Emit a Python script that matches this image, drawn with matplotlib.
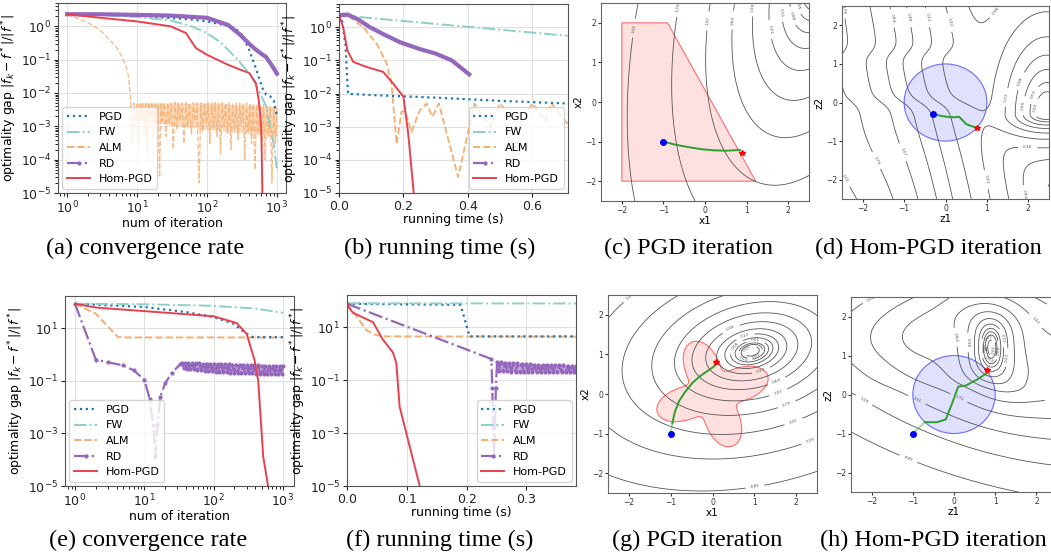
import numpy as np
import matplotlib.pyplot as plt
from matplotlib.lines import Line2D
from matplotlib.patches import Polygon, Circle

W, H = 1051, 557

C_PGD = '#1f77b4'
C_FW = '#8ecfc9'
C_ALM = '#f6ad6e'
C_RD = '#9467bd'
C_HOM = '#e8414e'

# ---------------- (a) gap vs iteration, problem 1
a_pgd_it = [1, 3, 10, 27, 60, 100, 160, 250, 320, 400, 480, 550, 620, 700, 800, 900, 1000]
a_pgd = [2.4, 2.3, 2.1, 1.8, 1.6, 1.4, 1.15, 0.9, 0.55, 0.2, 0.07, 0.03, 0.014, 0.009, 0.008, 0.006, 0.002]
a_fw_it = [1, 3, 10, 30, 60, 100, 150, 200, 300, 400, 500, 600, 700, 800, 900, 1000]
a_fw = [2.3, 2.2, 1.9, 1.5, 1.0, 0.63, 0.35, 0.2, 0.08, 0.04, 0.018, 0.008, 0.004, 0.001, 3e-4, 5e-5]
a_alm_it = [1, 2, 3, 4, 5, 6, 7, 7.6, 8.1, 8.5,
            9, 9.5, 10, 10.5, 11, 11.5, 12, 12.7, 13.4, 14, 14.8, 15.5, 16.3, 17, 18, 19, 20, 21, 22, 23,
            24.5, 26, 27.5, 29, 31, 33, 35, 37, 39, 41, 44, 47, 50, 53, 56, 60, 64, 68, 72, 77,
            82, 87, 92, 98, 104, 110, 117, 124, 131, 139, 147, 156, 165, 175, 185, 196, 208, 220, 233, 247,
            262, 277, 293, 310, 328, 347, 367, 388, 410, 434, 459, 485, 513, 543, 574, 607, 642, 679, 718, 759,
            803, 849, 898, 950, 1000]
a_alm = [2.3, 1.3, 0.75, 0.4, 0.25, 0.13, 0.06, 0.03, 7e-3, 3e-4,
         5.0e-3, 1.0e-3, 4.5e-3, 2.5e-4, 5.0e-3, 1.5e-3, 5.2e-3, 6e-4, 4.8e-3, 1.2e-4, 5.0e-3, 1.8e-3, 5.3e-3, 4e-4, 5.0e-3, 9e-4, 5.0e-3, 3e-5, 5.2e-3, 1.5e-3,
         5.0e-3, 5e-4, 5.1e-3, 1.2e-3, 5.0e-3, 2e-4, 5.2e-3, 8e-4, 5.0e-3, 1.5e-3, 5.0e-3, 3e-4, 5.1e-3, 1.0e-3, 5.0e-3, 6e-4, 5.2e-3, 1.4e-3, 5.0e-3, 2e-5,
         5.0e-3, 7e-4, 5.1e-3, 1.2e-3, 5.0e-3, 3e-4, 5.0e-3, 9e-4, 5.2e-3, 5e-4, 5.0e-3, 1.5e-4, 5.0e-3, 1.0e-3, 5.1e-3, 6e-4, 5.0e-3, 2e-4, 5.0e-3, 8e-4,
         5.0e-3, 4e-4, 5.0e-3, 1.1e-3, 4.8e-3, 1e-4, 5.0e-3, 7e-4, 4.8e-3, 3e-4, 4.8e-3, 5e-5, 4.6e-3, 6e-4, 4.5e-3, 2e-4, 4.5e-3, 1e-4, 4.2e-3, 5e-4,
         4.0e-3, 2e-5, 4.0e-3, 3e-4, 3.5e-3]
a_alm_band_it = [10, 100, 1000]
a_alm_band_lo = [1.5e-3, 8e-4, 5e-4]
a_alm_band_hi = [5.0e-3, 5.0e-3, 3.8e-3]
a_rd_it = [1, 3, 10, 30, 100, 200, 300, 400, 500, 600, 700, 800, 900, 1000]
a_rd = [2.3, 2.3, 2.2, 2.1, 1.8, 1.1, 0.55, 0.3, 0.2, 0.15, 0.12, 0.08, 0.055, 0.038]
a_hom_it = [1, 3, 10, 30, 50, 60, 70, 100, 200, 300, 400, 500, 550, 580, 600, 620, 640]
a_hom = [2.3, 1.8, 1.4, 1.0, 0.63, 0.35, 0.22, 0.14, 0.07, 0.05, 0.04, 0.02, 0.006, 0.002, 6e-4, 1e-5, 1e-6]

# ---------------- (b) gap vs time, problem 1
b_pgd_t = [0, 0.01, 0.02, 0.028, 0.1, 0.3, 0.5, 0.71]
b_pgd = [2.3, 1.5, 0.3, 0.0098, 0.009, 0.0075, 0.006, 0.005]
b_fw_t = [0, 0.71]
b_fw = [2.3, 0.55]
b_alm_t = [0, 0.034, 0.075, 0.117, 0.148, 0.163, 0.179, 0.194, 0.205, 0.225, 0.25, 0.272,
           0.29, 0.31, 0.37, 0.42, 0.47, 0.5, 0.56, 0.6, 0.64, 0.66, 0.71]
b_alm = [2.2, 2.0, 1.0, 0.32, 0.08, 0.02, 3e-4, 2.8e-3, 3e-3, 7e-4, 3e-3, 5e-3,
         2e-3, 5e-3, 3e-5, 5e-3, 1e-3, 5e-3, 1e-3, 5e-3, 1.5e-3, 5e-3, 1.2e-3]
b_rd_t = [0, 0.027, 0.06, 0.096, 0.14, 0.19, 0.25, 0.3, 0.35, 0.404]
b_rd = [2.3, 2.4, 1.7, 1.0, 0.6, 0.35, 0.22, 0.16, 0.1, 0.038]
b_hom_t = [0, 0.013, 0.026, 0.044, 0.086, 0.137, 0.168, 0.2, 0.215, 0.232, 0.24]
b_hom = [2.3, 1.0, 0.2, 0.09, 0.063, 0.045, 0.02, 0.008, 6e-4, 1e-5, 1e-6]

# ---------------- (e) gap vs iteration, problem 2
e_pgd_it = [1, 10, 41, 100, 190, 300, 370, 1000]
e_pgd = [84, 63, 40, 26, 15, 6, 4.5, 4.5]
e_fw_it = [1, 10, 100, 400, 1000]
e_fw = [84, 80, 70, 55, 38]
e_alm_it = [1, 2, 3.2, 4.2, 6, 1000]
e_alm = [84, 35, 9.5, 4.5, 4.4, 4.4]
e_rd_it = [1, 2, 3, 5, 7, 10, 12, 13.5, 14.5, 15.5, 17, 20, 25, 33,
           35, 37, 39, 41, 43, 46, 49, 52, 55, 58, 62, 66, 70, 74, 79, 84, 89, 95, 101, 107,
           114, 121, 129, 137, 146, 155, 165, 175, 186, 198, 210, 223, 237, 252, 268, 285, 303, 322, 342, 364,
           387, 411, 437, 465, 494, 525, 558, 593, 630, 670, 712, 757, 804, 855, 909, 966, 1000]
e_rd = [84, 0.63, 0.5, 0.38, 0.25, 0.11, 0.02, 2e-3, 1.3e-4, 2e-3, 0.024, 0.08, 0.2, 0.42,
        0.48, 0.3, 0.48, 0.29, 0.47, 0.28, 0.47, 0.27, 0.46, 0.26, 0.46, 0.25, 0.45, 0.24, 0.45, 0.23, 0.44, 0.23, 0.44, 0.22,
        0.43, 0.22, 0.43, 0.21, 0.42, 0.21, 0.42, 0.2, 0.41, 0.2, 0.41, 0.2, 0.4, 0.19, 0.4, 0.19, 0.39, 0.19, 0.39, 0.19,
        0.38, 0.18, 0.38, 0.18, 0.37, 0.18, 0.37, 0.18, 0.36, 0.18, 0.36, 0.18, 0.35, 0.18, 0.35, 0.18, 0.35]
e_rd_band_it = [35, 100, 1000]
e_rd_band_lo = [0.3, 0.22, 0.18]
e_rd_band_hi = [0.48, 0.44, 0.35]
e_hom_it = [1, 2, 10, 100, 215, 300, 390, 440, 520, 610, 660]
e_hom = [84, 60, 44, 28, 15.5, 6, 0.6, 0.1, 1.3e-4, 1e-5, 1e-6]

# ---------------- (f) gap vs time, problem 2
f_pgd_t = [0, 0.19, 0.205, 0.383]
f_pgd = [77, 70, 4.5, 4.5]
f_fw_t = [0, 0.383]
f_fw = [80, 79]
f_alm_t = [0, 0.016, 0.032, 0.046, 0.06, 0.383]
f_alm = [77, 26, 7.9, 5.3, 4.5, 4.4]
f_rd_t = [0, 0.2415, 0.243, 0.2445, 0.246, 0.2475, 0.249, 0.251,
          0.254, 0.257, 0.261, 0.264, 0.268, 0.271, 0.275, 0.278, 0.282, 0.285, 0.289, 0.292, 0.296, 0.299, 0.303, 0.306, 0.310, 0.313, 0.317, 0.320,
          0.324, 0.327, 0.331, 0.334, 0.338, 0.341, 0.345, 0.348, 0.352, 0.355, 0.359, 0.362, 0.366, 0.369, 0.373, 0.376, 0.380, 0.383]
f_rd = [77, 0.63, 0.05, 2e-3, 1.4e-4, 2e-3, 0.05, 0.5,
        0.22, 0.48, 0.22, 0.46, 0.22, 0.45, 0.21, 0.44, 0.21, 0.43, 0.21, 0.42, 0.2, 0.41, 0.2, 0.4, 0.2, 0.39, 0.2, 0.39,
        0.2, 0.38, 0.2, 0.38, 0.2, 0.37, 0.2, 0.37, 0.2, 0.36, 0.2, 0.36, 0.2, 0.35, 0.2, 0.35, 0.2, 0.35]
f_rd_band_t = [0.252, 0.383]
f_rd_band_lo = [0.22, 0.2]
f_rd_band_hi = [0.48, 0.35]
f_hom_t = [0, 0.002, 0.01, 0.0435, 0.06, 0.077, 0.0825, 0.088, 0.1216, 0.13]
f_hom = [84, 60, 35, 15.5, 3.4, 1.1, 0.44, 0.01, 1e-5, 2e-6]

# ---------------- iteration paths
levels = [0.01, 0.02, 0.03, 0.05, 0.08, 0.13, 0.22, 0.38, 0.64, 1.07, 1.79, 3.01, 5.05, 8.49]

c_poly_x = [-2, -0.9, 1.22, -2]
c_poly_y = [2, 2, -2, -2]
c_path_x = [-1.0, -0.7, -0.4, -0.1, 0.2, 0.5, 0.7, 0.84]
c_path_y = [-1.0, -1.08, -1.14, -1.19, -1.22, -1.23, -1.22, -1.21]
c_start = (-1.0, -1.0)
c_end = (0.88, -1.3)

d_path_x = [-0.29, -0.1, 0.11, 0.25, 0.33, 0.42, 0.5, 0.62, 0.75]
d_path_y = [-0.3, -0.35, -0.38, -0.38, -0.37, -0.47, -0.56, -0.61, -0.65]
d_start = (-0.29, -0.3)
d_end = (0.76, -0.66)

g_path_x = [-0.96, -0.9, -0.8, -0.65, -0.48, -0.3, -0.12, 0.0, 0.1]
g_path_y = [-0.74, -0.45, -0.18, 0.06, 0.28, 0.45, 0.58, 0.67, 0.75]
g_start = (-1.0, -1.0)
g_end = (0.08, 0.8)

h_path_x = [-0.71, -0.41, -0.2, -0.04, 0.1, 0.29, 0.57, 0.79]
h_path_y = [-0.71, -0.71, -0.64, -0.21, 0.2, 0.23, 0.39, 0.54]
h_start = (-1.0, -1.0)
h_end = (0.81, 0.62)


def rect(l, t, r, b):
    return [l / W, 1 - b / H, (r - l) / W, (b - t) / H]


fig = plt.figure(figsize=(W / 100, H / 100), dpi=100)


def gap_axes(box, xlabel, xlog):
    ax = fig.add_axes(rect(*box))
    ax.set_yscale('log')
    if xlog:
        ax.set_xscale('log')
    ax.grid(True, which='major', color='#e0e0e0', lw=0.8)
    ax.set_axisbelow(True)
    for s in ax.spines.values():
        s.set_color('#555555')
    ax.tick_params(labelsize=9, colors='#222222', length=3, pad=2)
    ax.set_xlabel(xlabel, fontsize=9, labelpad=0)
    ax.set_ylabel(r'optimality gap $|f_k-f^*|/|f^*|$', fontsize=9, labelpad=1)
    return ax


def add_legend(ax, loc):
    hs = [Line2D([], [], color=C_PGD, ls=':', lw=1.6),
          Line2D([], [], color=C_FW, ls='-.', lw=1.4),
          Line2D([], [], color=C_ALM, ls='--', lw=1.4),
          Line2D([], [], color=C_RD, ls='-.', lw=1.6, marker='.', ms=4),
          Line2D([], [], color=C_HOM, ls='-', lw=1.4)]
    ax.legend(hs, ['PGD', 'FW', 'ALM', 'RD', 'Hom-PGD'], loc=loc, fontsize=8,
              handlelength=2.1, labelspacing=0.5, borderpad=0.4, handletextpad=0.8,
              borderaxespad=0.4)


# (a)
ax = gap_axes((58, 3, 286, 193), 'num of iteration', True)
ax.fill_between(a_alm_band_it, a_alm_band_lo, a_alm_band_hi, color=C_ALM, alpha=0.45, lw=0)
ax.plot(a_alm_it, a_alm, color=C_ALM, ls='--', lw=1.0, alpha=0.8)
ax.plot(a_pgd_it, a_pgd, color=C_PGD, ls=':', lw=1.6)
ax.plot(a_fw_it, a_fw, color=C_FW, ls='-.', lw=1.4)
ax.plot(a_rd_it, a_rd, color=C_RD, ls='-', lw=3.0)
ax.plot(a_hom_it, a_hom, color=C_HOM, lw=1.4)
ax.set_xlim(10 ** -0.13, 10 ** 3.13)
ax.set_ylim(1e-5, 5)
ax.set_yticks([1, 1e-1, 1e-2, 1e-3, 1e-4, 1e-5])
add_legend(ax, 'lower left')

# (b)
ax = gap_axes((339, 4, 568, 193), 'running time (s)', False)
ax.plot(b_alm_t, b_alm, color=C_ALM, ls='--', lw=1.3)
ax.plot(b_pgd_t, b_pgd, color=C_PGD, ls=':', lw=1.6)
ax.plot(b_fw_t, b_fw, color=C_FW, ls='-.', lw=1.4)
ax.plot(b_rd_t, b_rd, color=C_RD, ls='-', lw=3.0)
ax.plot(b_hom_t, b_hom, color=C_HOM, lw=1.4)
ax.set_xlim(0, 0.711)
ax.set_ylim(1e-5, 5)
ax.set_xticks([0, 0.2, 0.4, 0.6])
ax.set_yticks([1, 1e-1, 1e-2, 1e-3, 1e-4, 1e-5])
add_legend(ax, 'lower right')

# (e)
ax = gap_axes((65, 296, 294, 486), 'num of iteration', True)
ax.plot(e_alm_it, e_alm, color=C_ALM, ls='--', lw=1.4)
ax.plot(e_pgd_it, e_pgd, color=C_PGD, ls=':', lw=1.6)
ax.plot(e_fw_it, e_fw, color=C_FW, ls='-.', lw=1.4)
ax.fill_between(e_rd_band_it, e_rd_band_lo, e_rd_band_hi, color=C_RD, alpha=0.6, lw=0)
ax.plot(e_rd_it, e_rd, color=C_RD, ls='-.', lw=1.6, marker='.', ms=4)
ax.plot(e_hom_it, e_hom, color=C_HOM, lw=1.4)
ax.set_xlim(10 ** -0.144, 10 ** 3.16)
ax.set_ylim(1e-5, 165)
ax.set_yticks([1e1, 1e-1, 1e-3, 1e-5])
ax.yaxis.set_minor_locator(plt.NullLocator())
add_legend(ax, 'lower left')

# (f)
ax = gap_axes((347, 295, 576, 486), 'running time (s)', False)
ax.plot(f_alm_t, f_alm, color=C_ALM, ls='--', lw=1.4)
ax.plot(f_pgd_t, f_pgd, color=C_PGD, ls=':', lw=1.6)
ax.plot(f_fw_t, f_fw, color=C_FW, ls='-.', lw=1.4)
ax.fill_between(f_rd_band_t, f_rd_band_lo, f_rd_band_hi, color=C_RD, alpha=0.6, lw=0)
ax.plot(f_rd_t, f_rd, color=C_RD, ls='-.', lw=1.6, marker='.', ms=4)
ax.plot(f_hom_t, f_hom, color=C_HOM, lw=1.4)
ax.set_xlim(0, 0.383)
ax.set_ylim(1e-5, 165)
ax.set_xticks([0, 0.1, 0.2, 0.3])
ax.set_yticks([1e1, 1e-1, 1e-3, 1e-5])
ax.yaxis.set_minor_locator(plt.NullLocator())
add_legend(ax, 'lower right')

# ---------------- landscapes
g = np.linspace(-2.5, 2.5, 301)
X1, X2 = np.meshgrid(g, g)


def ellip(x, y, cx, cy, ang, ka, kb):
    dx, dy = x - cx, y - cy
    ca, sa = np.cos(ang), np.sin(ang)
    p = dx * ca + dy * sa
    q = -dx * sa + dy * ca
    return ka * p ** 2 + kb * q ** 2


F_c = ellip(X1, X2, 2.8, 3.2, np.arctan2(0.96, 0.26), 0.036, 0.036 * 2.2 ** 2)
F_g = ellip(X1, X2, 0.94, 1.08, np.deg2rad(15), 0.3, 0.75)

# z-space landscape of (d): a valley through the middle and a deep well on the right
w1 = X1 + 0.25 * np.tanh(5 * X2) - 0.2 * np.tanh(5 * (X2 - 1.3))
A_d = 0.2 + 0.4 * (w1 - 0.3 + 0.2 * X2) ** 2
ky = np.where(X2 > -0.3, 0.03, 0.5)
B_d = 0.01 + 0.12 * (X1 - 2.45) ** 2 + ky * (X2 + 0.3) ** 2
F_d = (A_d ** -2 + B_d ** -2) ** -0.5

# z-space landscape of (h)
v1 = X1 + 0.15 * np.tanh(5 * (X2 - 0.2))
r2 = (v1 - 1.05) ** 2 + (X2 - 1.2) ** 2
wt = np.exp(-r2 / 1.2)
far = ellip(v1, X2, 1.05, 1.2, np.deg2rad(-18), 0.165, 0.7)
near = 1.5 * (v1 - 1.05) ** 2 + 0.25 * (X2 - 1.2) ** 2
F_h = wt * near + (1 - wt) * far + 0.3 * np.maximum(0, X2 - 1.0) ** 2 * np.maximum(0, -X1)


def land_axes(box, F, xl, yl, xmax_label=2.5):
    ax = fig.add_axes(rect(*box))
    cs = ax.contour(X1, X2, F, levels=levels, colors='#555555', linewidths=0.6)
    labels = ax.clabel(cs, fontsize=3, fmt='%.2f', inline=True)
    for t in labels:
        if t.get_position()[0] > xmax_label:
            t.remove()
    ax.set_xlim(-2.5, 2.5)
    ax.set_ylim(-2.5, 2.5)
    ax.set_xticks([-2, -1, 0, 1, 2])
    ax.set_yticks([-2, -1, 0, 1, 2])
    ax.tick_params(labelsize=5.5, length=2, pad=1.5, colors='#333333')
    ax.set_xlabel(xl, fontsize=7.5, labelpad=1)
    ax.set_ylabel(yl, fontsize=7.5, labelpad=1)
    for s in ax.spines.values():
        s.set_color('#666666')
    return ax


def draw_path(ax, px, py, start, end, faint=True):
    if faint:
        ax.plot([start[0], px[0]], [start[1], py[0]], color='#2ca02c', lw=1.4, alpha=0.4)
    ax.plot(px, py, color='#2ca02c', lw=1.4)
    ax.plot(*start, 'o', color='blue', ms=4)
    ax.plot(*end, '*', color='red', ms=4)


ax = land_axes((601, 3, 809, 201), F_c, 'x1', 'x2')
ax.add_patch(Polygon(np.column_stack([c_poly_x, c_poly_y]), closed=True,
                     facecolor='red', alpha=0.12, edgecolor='none'))
ax.add_patch(Polygon(np.column_stack([c_poly_x, c_poly_y]), closed=True,
                     facecolor='none', edgecolor='red', alpha=0.55, lw=0.8))
draw_path(ax, c_path_x, c_path_y, c_start, c_end, faint=False)

ax = land_axes((842, 6, 1049, 199), F_d, 'z1', 'z2', 2.35)
ax.add_patch(Circle((0, 0), 1, facecolor='blue', alpha=0.12, edgecolor='none'))
ax.add_patch(Circle((0, 0), 1, facecolor='none', edgecolor='blue', alpha=0.55, lw=0.8))
draw_path(ax, d_path_x, d_path_y, d_start, d_end, faint=False)

ax = land_axes((608, 295, 817, 493), F_g, 'x1', 'x2')
th = np.linspace(0, 2 * np.pi, 400)
rr = 1.02 + 0.38 * np.cos(4 * (th - np.deg2rad(20)))
flower = np.column_stack([rr * np.cos(th), rr * np.sin(th)])
ax.add_patch(Polygon(flower, closed=True, facecolor='red', alpha=0.12, edgecolor='none'))
ax.add_patch(Polygon(flower, closed=True, facecolor='none', edgecolor='red', alpha=0.55, lw=0.8))
draw_path(ax, g_path_x, g_path_y, g_start, g_end)

ax = land_axes((851, 297, 1057, 492), F_h, 'z1', 'z2', 2.1)
ax.add_patch(Circle((0, 0), 1, facecolor='blue', alpha=0.12, edgecolor='none'))
ax.add_patch(Circle((0, 0), 1, facecolor='none', edgecolor='blue', alpha=0.55, lw=0.8))
draw_path(ax, h_path_x, h_path_y, h_start, h_end)

# ---------------- captions
caps = [(145, 248, '(a) convergence rate'), (440, 248, '(b) running time (s)'),
        (688, 248, '(c) PGD iteration'), (928, 248, '(d) Hom-PGD iteration'),
        (148, 540, '(e) convergence rate'), (440, 540, '(f) running time (s)'),
        (697, 540, '(g) PGD iteration'), (933, 540, '(h) Hom-PGD iteration')]
for x, y, t in caps:
    fig.text(x / W, 1 - y / H, t, ha='center', va='center', fontsize=17.5,
             family='Liberation Serif')

fig.savefig('out.png', dpi=100)
